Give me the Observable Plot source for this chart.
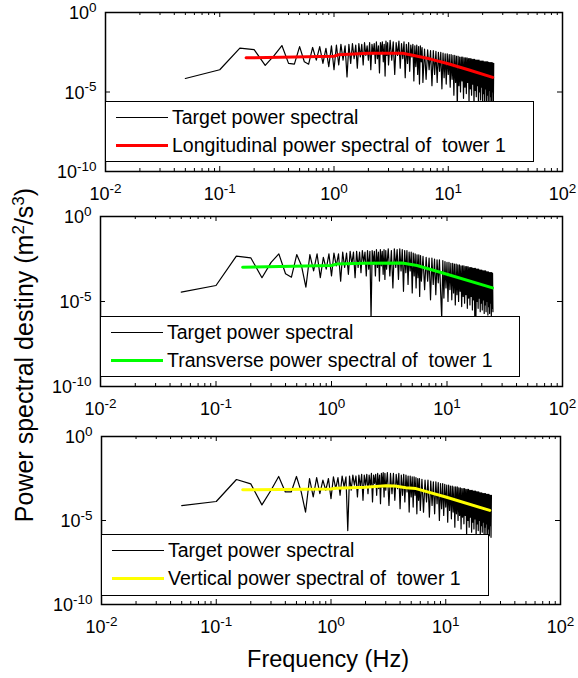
<!DOCTYPE html>
<html><head><meta charset="utf-8">
<script src="https://cdn.jsdelivr.net/npm/d3@7"></script>
<script src="https://cdn.jsdelivr.net/npm/@observablehq/plot@0.6"></script>
<style>
body{margin:0;background:#fff;}
#wrap{position:relative;width:578px;height:678px;overflow:hidden;font-family:"Liberation Sans",Arial,sans-serif;color:#000;}
.panel{position:absolute;left:0;}
.legend{position:absolute;background:#fff;border:1.2px solid #000;box-sizing:border-box;}
.sw{position:absolute;}
.lt{position:absolute;white-space:pre;font-size:19.5px;line-height:22px;height:22px;}
#ylab{position:absolute;left:-176px;top:341px;width:400px;height:28px;line-height:28px;text-align:center;font-size:25px;transform:rotate(-90deg);white-space:nowrap;}
#xlab{position:absolute;left:128px;top:645px;width:400px;height:28px;line-height:28px;text-align:center;font-size:23.5px;}
.sup{font-size:0.68em;vertical-align:0.55em;line-height:0;}
</style></head><body><div id="wrap"></div>
<script>
// ---------- data ----------
const freq = [
0.05,0.1,0.15,0.2,0.25,0.3,0.35,0.4,0.45,0.5,
0.55,0.6,0.65,0.7,0.75,0.8,0.85,0.9,0.95,1,
1.05,1.1,1.15,1.2,1.25,1.3,1.35,1.4,1.45,1.5,
1.55,1.6,1.65,1.7,1.75,1.8,1.85,1.9,1.95,2,
2.05,2.1,2.15,2.2,2.25,2.3,2.35,2.4,2.45,2.5,
2.55,2.6,2.65,2.7,2.75,2.8,2.85,2.9,2.95,3,
3.1,3.2,3.3,3.4,3.5,3.6,3.7,3.8,3.9,4,
4.1,4.2,4.3,4.4,4.5,4.6,4.7,4.8,4.9,5,
5.1,5.2,5.3,5.4,5.5,5.6,5.7,5.8,5.9,6,
6.2,6.4,6.6,6.8,7,7.2,7.4,7.6,7.8,8,
8.2,8.4,8.6,8.8,9,9.2,9.4,9.6,9.8,10,
10.2,10.4,10.6,10.8,11,11.2,11.4,11.6,11.8,12,
12.2,12.4,12.6,12.8,13,13.2,13.4,13.6,13.8,14,
14.2,14.4,14.6,14.8,15,15.2,15.4,15.6,15.8,16,
16.2,16.4,16.6,16.8,17,17.2,17.4,17.6,17.8,18,
18.2,18.4,18.6,18.8,19,19.2,19.4,19.6,19.8,20,
20.2,20.4,20.6,20.8,21,21.2,21.4,21.6,21.8,22,
22.2,22.4,22.6,22.8,23,23.2,23.4,23.6,23.8,24,
24.2,24.4,24.6,24.8,25];

// target spectra, log10 of the value (m^2/s^3)
const tgtL = [
-4.15,-3.6,-2.24,-2.33,-3.33,-2.7,-2.08,-3.2,-3.25,-2.15,
-3.1,-3.25,-2.2,-3.0,-2.15,-3.2,-2.25,-3.4,-2.1,-3.6,
-2.05,-3.3,-2.0,-3.0,-2.1,-4.05,-2.0,-3.2,-1.95,-2.9,
-2.05,-3.5,-1.95,-2.8,-2.0,-3.3,-1.9,-2.7,-2.1,-3.0,
-1.9,-3.6,-2.0,-2.6,-1.95,-3.2,-1.85,-2.9,-2.1,-3.8,
-1.9,-2.5,-1.85,-3.1,-2.0,-4.0,-1.8,-2.7,-1.9,-3.3,
-1.75,-3.0,-1.85,-3.9,-1.9,-2.7,-1.8,-3.5,-1.95,-2.9,
-1.85,-4.1,-2.0,-3.2,-1.9,-3.7,-2.05,-2.8,-2.0,-4.3,
-2.1,-3.4,-2.05,-3.9,-2.15,-4.5,-2.1,-3.1,-2.2,-4.4,
-2.3,-4.2,-2.35,-3.6,-2.4,-4.6,-2.4,-3.9,-2.45,-4.4,
-2.5,-3.7,-2.5,-4.8,-2.55,-4.1,-2.6,-4.5,-2.6,-3.9,
-2.65,-4.7,-2.65,-4.2,-2.7,-5.2,-2.7,-4.4,-2.75,-6,
-2.75,-4.6,-2.8,-5.0,-2.8,-4.3,-2.8,-5.4,-2.85,-4.7,
-2.85,-5.1,-2.85,-4.4,-2.9,-5.6,-2.9,-4.8,-2.9,-5.2,
-2.95,-4.5,-2.95,-5.8,-2.95,-4.9,-3.0,-5.3,-3.0,-4.6,
-3.0,-6,-3.0,-5.0,-3.05,-5.5,-3.05,-4.7,-3.05,-5.9,
-3.05,-5.1,-3.1,-5.6,-3.1,-4.8,-3.1,-6,-3.1,-5.2,
-3.1,-5.7,-3.15,-4.9,-3.15,-6,-3.15,-5.3,-3.15,-5.8,
-3.15,-5.0,-3.2,-6,-3.2];

const tgtT = [
-4.45,-4.06,-2.33,-2.43,-3.6,-2.7,-2.2,-3.37,-3.57,-2.24,
-2.9,-4.16,-2.24,-3.2,-2.2,-3.6,-2.4,-3.1,-2.2,-3.5,
-2.15,-2.9,-2.2,-3.8,-2.1,-3.0,-2.15,-3.4,-2.05,-2.8,
-2.1,-3.6,-2.05,-3.0,-2.1,-3.3,-2.0,-2.7,-2.1,-3.5,
-2.0,-3.1,-2.05,-6,-2.0,-2.8,-2.05,-3.5,-1.95,-3.0,
-2.1,-3.8,-1.95,-2.9,-2.05,-3.4,-1.95,-3.7,-2.0,-3.1,
-1.9,-3.5,-2.0,-4.2,-1.9,-3.0,-1.95,-3.7,-1.9,-3.2,
-1.95,-4.4,-2.0,-3.3,-2.0,-4.0,-2.1,-3.2,-2.1,-4.5,
-2.15,-3.5,-2.2,-4.2,-2.25,-3.6,-2.25,-4.7,-2.3,-3.8,
-2.35,-4.3,-2.4,-3.8,-2.45,-4.9,-2.45,-4.0,-2.5,-4.6,
-2.55,-3.9,-2.55,-4.4,-6,-2.6,-4.8,-2.65,-4.2,-2.7,
-5.0,-2.7,-4.3,-2.75,-4.9,-2.75,-4.5,-2.8,-5.2,-2.8,
-4.6,-2.85,-5.0,-2.85,-4.4,-2.9,-5.3,-2.9,-4.7,-2.9,
-5.1,-2.95,-4.6,-2.95,-5.4,-2.95,-4.8,-3.0,-5.2,-3.0,
-4.7,-3.0,-5.5,-3.05,-4.9,-3.05,-6,-3.05,-6,-3.1,
-5.0,-3.1,-5.4,-3.1,-4.8,-3.15,-5.6,-3.15,-5.1,-3.15,
-5.5,-3.2,-4.9,-3.2,-5.7,-3.2,-5.2,-3.2,-5.6,-3.25,
-5.0,-3.25,-5.8,-3.25,-5.3,-3.3,-5.7,-3.3,-5.1,-3.3,
-5.9,-3.3,-5.4,-3.35,-5.6];

const tgtV = [
-4.11,-3.87,-2.56,-2.82,-4.07,-3.2,-2.38,-3.3,-3.3,-2.38,
-3.3,-4.5,-2.5,-3.6,-2.45,-3.4,-2.6,-3.2,-2.5,-3.7,
-2.4,-3.1,-2.45,-3.5,-2.35,-3.0,-2.4,-5.6,-2.35,-3.2,
-2.3,-2.9,-2.35,-3.6,-2.3,-3.0,-2.25,-3.8,-2.3,-2.9,
-2.25,-3.4,-2.3,-3.0,-2.2,-3.9,-2.3,-2.8,-2.25,-3.5,
-2.2,-3.1,-2.3,-4.0,-2.2,-3.0,-2.15,-3.6,-2.2,-3.2,
-2.15,-4.1,-2.2,-3.4,-2.2,-3.8,-2.25,-3.1,-2.2,-4.3,
-2.3,-3.5,-2.25,-3.9,-2.3,-3.3,-2.35,-4.5,-2.35,-3.6,
-2.4,-4.2,-2.4,-3.5,-2.45,-4.6,-2.5,-3.8,-2.5,-4.4,
-2.55,-4.5,-2.6,-3.9,-2.6,-4.8,-2.65,-4.1,-2.7,-4.6,
-2.7,-4.0,-2.75,-5.0,-2.8,-4.3,-2.8,-4.7,-2.85,-4.2,
-2.9,-5.1,-2.9,-4.4,-2.95,-4.9,-2.95,-4.5,-3.0,-5.4,
-3.0,-4.6,-3.0,-5.0,-3.05,-4.7,-3.05,-5.5,-3.1,-4.8,
-3.1,-5.2,-3.1,-4.7,-3.15,-5.9,-3.15,-5.0,-3.15,-5.4,
-3.2,-4.8,-3.2,-5.7,-3.2,-5.1,-3.25,-5.5,-3.25,-4.9,
-3.25,-6,-3.3,-5.2,-3.3,-5.6,-3.3,-5.0,-3.35,-6,
-3.35,-5.3,-3.35,-5.7,-3.4,-5.1,-3.4,-6,-3.4,-5.4,
-3.4,-5.8,-3.45,-5.2,-3.45,-6,-3.45,-5.5,-3.45,-5.9,
-3.5,-5.3,-3.5,-6,-3.5];

// simulated spectra of tower 1, log10 of the value
const simFreqL = [0.17, 1.0, 1.1, 2.0, 4.0, 5.0, 7.0, 10, 15, 24.5];
const simL     = [-2.85,-2.75,-2.65,-2.57,-2.56,-2.7,-2.93,-3.22,-3.6,-4.08];
const simFreqT = [0.17, 1.0, 1.1, 1.9, 4.1, 5.5, 10, 24.8];
const simT     = [-2.98,-2.88,-2.8,-2.75,-2.73,-2.88,-3.4,-4.2];
const simFreqV = [0.17, 1.0, 1.1, 2.0, 3.0, 3.6, 4.5, 5.5, 10, 24.2];
const simV     = [-3.17,-3.12,-3.08,-3.02,-2.93,-2.95,-3.05,-3.1,-3.6,-4.4];

// tick labels (powers of ten)
const xTickExps = [-2, -1, 0, 1, 2];
const yTickExps = [0, -5, -10];
const targetLabel = "Target power spectral";
const simLabels = ["Longitudinal power spectral of  tower 1", "Transverse power spectral of  tower 1", "Vertical power spectral of  tower 1"];
const simColors = ["#ff0000", "#00ff00", "#ffff00"];

// ---------- checks ----------
for (const [n, a] of [["tgtL", tgtL], ["tgtT", tgtT], ["tgtV", tgtV]])
  if (a.length !== freq.length) throw new Error(n + " length " + a.length + " != " + freq.length);

// ---------- layout ----------
const layout = [
  {top: 0,   H: 205, fl: 105, fr: 562, ft: 12,  fb: 171, legR: 534, legT: 101, legB: 162},
  {top: 205, H: 220, fl: 100, fr: 562, ft: 216, fb: 386, legR: 520, legT: 316, legB: 377},
  {top: 425, H: 253, fl: 101, fr: 560, ft: 436, fb: 604, legR: 489, legT: 534, legB: 596}
];
const targets = [tgtL, tgtT, tgtV];
const sims = [[simFreqL, simL], [simFreqT, simT], [simFreqV, simV]];

const xMajor = xTickExps.map(e => 10 ** e);
const xMinor = [];
for (let e = -2; e < 2; e++) for (let m = 2; m <= 9; m++) xMinor.push(m * 10 ** e);
const yInner = [1e-5];

const wrap = document.getElementById("wrap");
const SVGNS = "http://www.w3.org/2000/svg";

function superscript(svg) {
  svg.querySelectorAll("text").forEach(t => {
    const s = t.textContent;
    if (!s.includes("^")) return;
    const e = s.split("^")[1];
    while (t.firstChild) t.removeChild(t.firstChild);
    t.appendChild(document.createTextNode("10"));
    const ts = document.createElementNS(SVGNS, "tspan");
    ts.setAttribute("dy", "-7.5");
    ts.setAttribute("font-size", "13.5");
    ts.textContent = e;
    t.appendChild(ts);
  });
}

layout.forEach((p, i) => {
  const innerH = p.fb - p.ft, innerW = p.fr - p.fl;
  const target = freq.map((f, j) => ({f, v: 10 ** targets[i][j]}));
  const sim = sims[i][0].map((f, j) => ({f, v: 10 ** sims[i][1][j]}));
  const svg = Plot.plot({
    width: 578, height: p.H,
    marginLeft: p.fl, marginRight: 578 - p.fr,
    marginTop: p.ft - p.top, marginBottom: p.top + p.H - p.fb,
    x: {type: "log", domain: [0.01, 100], axis: null},
    y: {type: "log", domain: [1e-10, 1], axis: null},
    style: {background: "transparent", fontFamily: "Liberation Sans, Arial, sans-serif", overflow: "visible", color: "black"},
    marks: [
      Plot.line(target, {x: "f", y: "v", stroke: "black", strokeWidth: 1.2}),
      Plot.line(sim, {x: "f", y: "v", stroke: simColors[i], strokeWidth: 3}),
      Plot.ruleX(xMinor, {insetTop: innerH - 3, stroke: "black"}),
      Plot.ruleX(xMinor, {insetBottom: innerH - 3, stroke: "black"}),
      Plot.ruleX(xMajor, {insetTop: innerH - 5, stroke: "black"}),
      Plot.ruleX(xMajor, {insetBottom: innerH - 5, stroke: "black"}),
      Plot.ruleY(yInner, {insetRight: innerW - 5, stroke: "black"}),
      Plot.ruleY(yInner, {insetLeft: innerW - 5, stroke: "black"}),
      Plot.frame({stroke: "black", strokeWidth: 1.5}),
      Plot.text(xTickExps, {x: e => 10 ** e, text: e => "10^" + e, frameAnchor: "bottom", lineAnchor: "top", dy: 16, fontSize: 18, fill: "black"}),
      Plot.text(yTickExps, {y: e => 10 ** e, text: e => "10^" + e, frameAnchor: "left", textAnchor: "end", dx: -9, dy: 1, fontSize: 18, fill: "black"})
    ]
  });
  superscript(svg);
  svg.classList.add("panel");
  svg.style.position = "absolute";
  svg.style.top = p.top + "px";
  wrap.appendChild(svg);

  // legend box
  const leg = document.createElement("div");
  leg.className = "legend";
  Object.assign(leg.style, {left: p.fl + "px", top: p.legT + "px", width: (p.legR - p.fl) + "px", height: (p.legB - p.legT) + "px"});
  const rows = [[targetLabel, "#000", 1], [simLabels[i], simColors[i], 3]];
  rows.forEach(([txt, col, th], r) => {
    const cy = r === 0 ? 15 : 43;
    const sw = document.createElement("div");
    sw.className = "sw";
    Object.assign(sw.style, {left: "10px", width: "52px", top: (cy - th / 2) + "px", height: th + "px", background: col});
    leg.appendChild(sw);
    const t = document.createElement("div");
    t.className = "lt";
    t.style.left = "66px";
    t.style.top = (cy - 11) + "px";
    t.textContent = txt;
    leg.appendChild(t);
  });
  wrap.appendChild(leg);
});

const yl = document.createElement("div");
yl.id = "ylab";
yl.innerHTML = 'Power spectral destiny (m<span class="sup">2</span>/s<span class="sup">3</span>)';
wrap.appendChild(yl);
const xl = document.createElement("div");
xl.id = "xlab";
xl.textContent = "Frequency (Hz)";
wrap.appendChild(xl);
</script></body></html>
